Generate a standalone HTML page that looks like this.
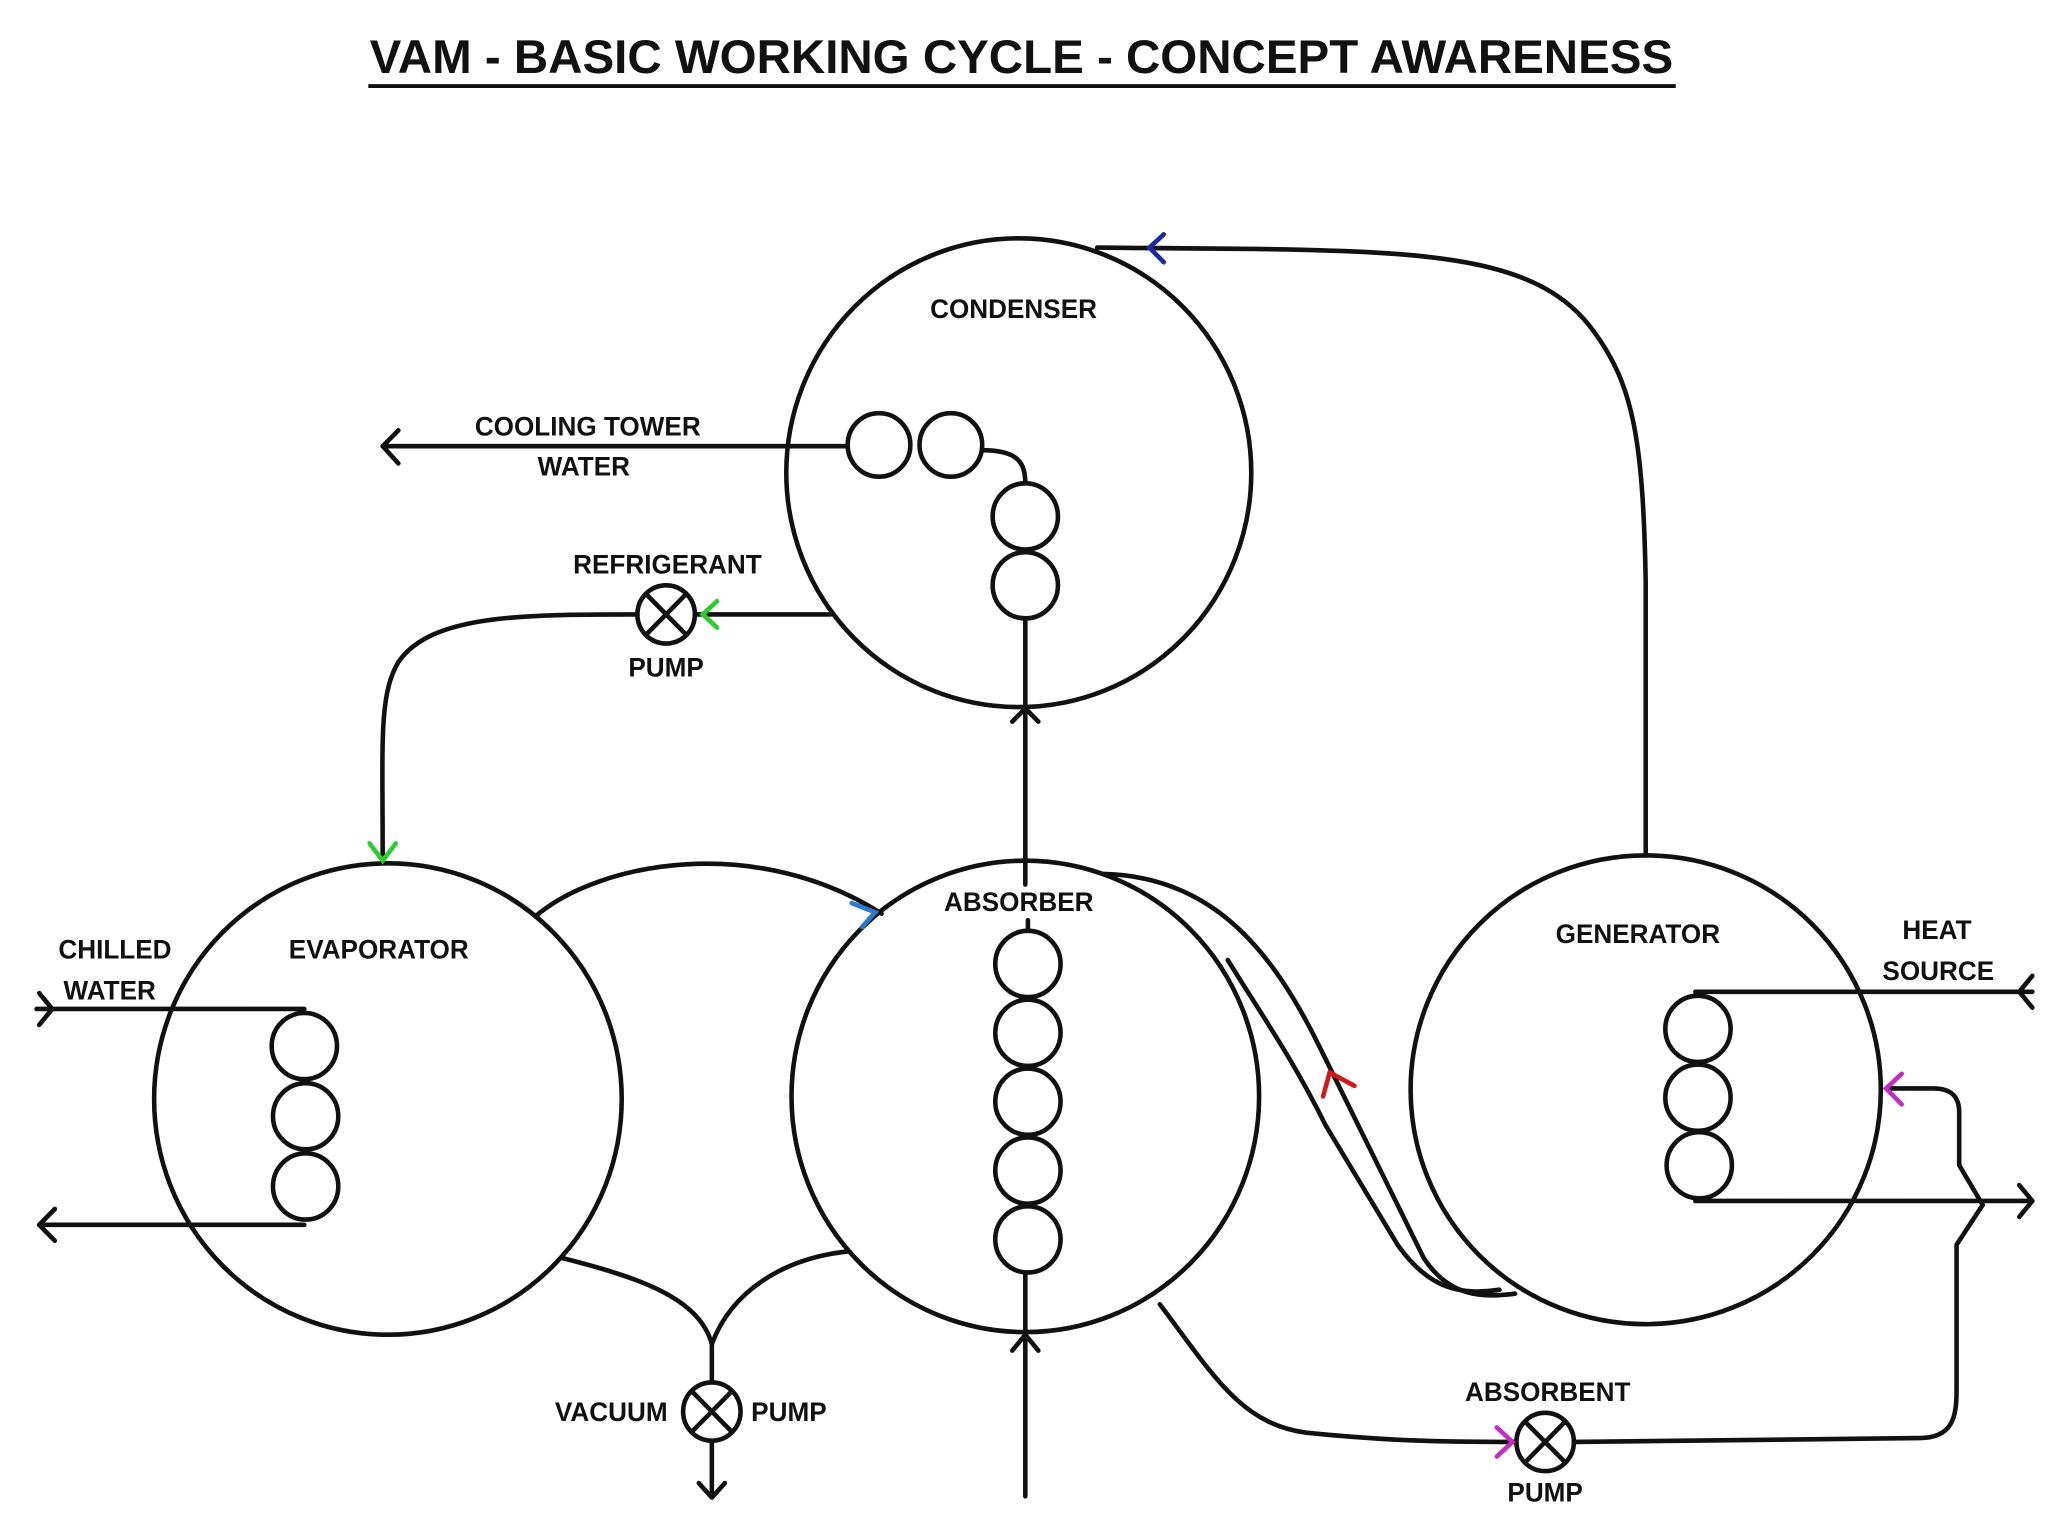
<!DOCTYPE html>
<html><head><meta charset="utf-8"><style>
html,body{margin:0;padding:0;background:#fff;}
svg{display:block;}
text{font-family:"Liberation Sans",sans-serif;font-weight:bold;fill:#111;text-anchor:middle;}
</style></head><body>
<svg width="2048" height="1536" viewBox="0 0 1568 1160" preserveAspectRatio="none" xmlns="http://www.w3.org/2000/svg">
<rect width="1568" height="1160" fill="#fff"/>
<text x="782" y="55" font-size="36" textLength="998" lengthAdjust="spacingAndGlyphs">VAM - BASIC WORKING CYCLE - CONCEPT AWARENESS</text>
<line x1="282" y1="65" x2="1283" y2="65" stroke="#111" stroke-width="3"/>
<g fill="none" stroke="#111" stroke-width="3.5" stroke-linecap="round" stroke-linejoin="round">
<ellipse cx="780" cy="357" rx="178" ry="177"/>
<ellipse cx="297" cy="830" rx="179" ry="178"/>
<ellipse cx="785" cy="828" rx="179" ry="178"/>
<ellipse cx="1260" cy="823" rx="180" ry="177"/>
<circle cx="673" cy="336" r="24"/><circle cx="728" cy="336" r="24"/>
<circle cx="785" cy="390" r="25"/><circle cx="785" cy="442" r="25"/>
<path d="M752,340 C780,340 785,350 785,365"/>
<line x1="648" y1="337" x2="293" y2="337"/>
<path d="M305,325 L293,337 L305,350"/>
<line x1="785" y1="467" x2="785" y2="668"/>
<path d="M775,545 L785,535 L795,545"/>
<line x1="785" y1="961" x2="785" y2="1130"/>
<path d="M775,1020 L785,1008 L795,1020"/>
<circle cx="787" cy="728" r="25"/><circle cx="787" cy="780" r="25"/><circle cx="787" cy="832" r="25"/><circle cx="787" cy="884" r="25"/><circle cx="787" cy="936" r="25"/>
<line x1="787" y1="695" x2="787" y2="703"/>
<circle cx="510" cy="464" r="22"/>
<path d="M495,449 L525,479 M525,449 L495,479"/>
<line x1="636" y1="464" x2="532" y2="464"/>
<path d="M488,464 C400,464 330,464 305,500 C290,525 293,560 293,648"/>
<path d="M1260,646 L1260,440 C1258,330 1250,290 1220,250 C1180,195 1100,190 960,188 L840,187"/>
<path d="M410,692 C460,650 580,630 675,690"/>
<circle cx="233" cy="790" r="25"/><circle cx="234" cy="843" r="25"/><circle cx="234" cy="896" r="25"/>
<line x1="28" y1="762" x2="233" y2="762"/>
<path d="M30,750 L40,762 L30,774"/>
<line x1="233" y1="925" x2="30" y2="925"/>
<path d="M42,913 L30,925 L42,937"/>
<circle cx="1300" cy="777" r="25"/><circle cx="1300" cy="829" r="25"/><circle cx="1301" cy="880" r="25"/>
<line x1="1298" y1="749" x2="1556" y2="749"/>
<path d="M1556,737 L1546,749 L1556,761"/>
<line x1="1298" y1="907" x2="1556" y2="907"/>
<path d="M1546,895 L1556,907 L1546,919"/>
<path d="M845,660 C930,662 975,720 1010,790 L1090,950 C1110,980 1135,980 1160,977"/>
<path d="M940,725 C965,765 990,800 1015,850 L1070,940 C1095,975 1120,978 1148,974"/>
<path d="M888,985 C930,1040 950,1075 1000,1082 C1060,1088 1100,1089 1160,1089"/>
<circle cx="1183" cy="1089" r="22"/>
<path d="M1168,1074 L1198,1104 M1198,1074 L1168,1104"/>
<path d="M1205,1089 L1470,1086 C1495,1086 1498,1070 1498,1050 L1498,940 L1518,910 L1500,880 L1500,840 C1500,825 1490,822 1480,822 L1445,822"/>
<path d="M430,950 C490,965 535,980 545,1015"/>
<path d="M650,945 C600,950 560,975 545,1015"/>
<line x1="545" y1="1015" x2="545" y2="1044"/>
<circle cx="545" cy="1066" r="22"/>
<path d="M530,1051 L560,1081 M560,1051 L530,1081"/>
<line x1="545" y1="1088" x2="545" y2="1130"/>
<path d="M535,1120 L545,1131 L555,1120"/>
</g>
<g fill="none" stroke-width="3.5" stroke-linecap="round">
<path d="M891,177 L880,187 L891,198" stroke="#1a2aa0"/>
<path d="M549,454 L538,464 L549,474" stroke="#2ecc2e"/>
<path d="M283,637 L293,650 L303,637" stroke="#2ecc2e"/>
<path d="M652,682 L670,689 L660,700" stroke="#2a7ad0"/>
<path d="M1013,828 L1018,810 L1037,820" stroke="#d01a1a"/>
<path d="M1146,1078 L1158,1089 L1146,1100" stroke="#c030c0"/>
<path d="M1456,811 L1444,822 L1456,834" stroke="#c030c0"/>
</g>
<g font-size="20">
<text x="776" y="240">CONDENSER</text>
<text x="450" y="329">COOLING TOWER</text>
<text x="447" y="359">WATER</text>
<text x="511" y="433">REFRIGERANT</text>
<text x="510" y="511">PUMP</text>
<text x="780" y="688">ABSORBER</text>
<text x="88" y="724">CHILLED</text>
<text x="84" y="755">WATER</text>
<text x="290" y="724">EVAPORATOR</text>
<text x="1254" y="712">GENERATOR</text>
<text x="1483" y="709">HEAT</text>
<text x="1484" y="740">SOURCE</text>
<text x="1185" y="1058">ABSORBENT</text>
<text x="1183" y="1134">PUMP</text>
<text x="468" y="1073">VACUUM</text>
<text x="604" y="1073">PUMP</text>
</g>
</svg>
</body></html>
